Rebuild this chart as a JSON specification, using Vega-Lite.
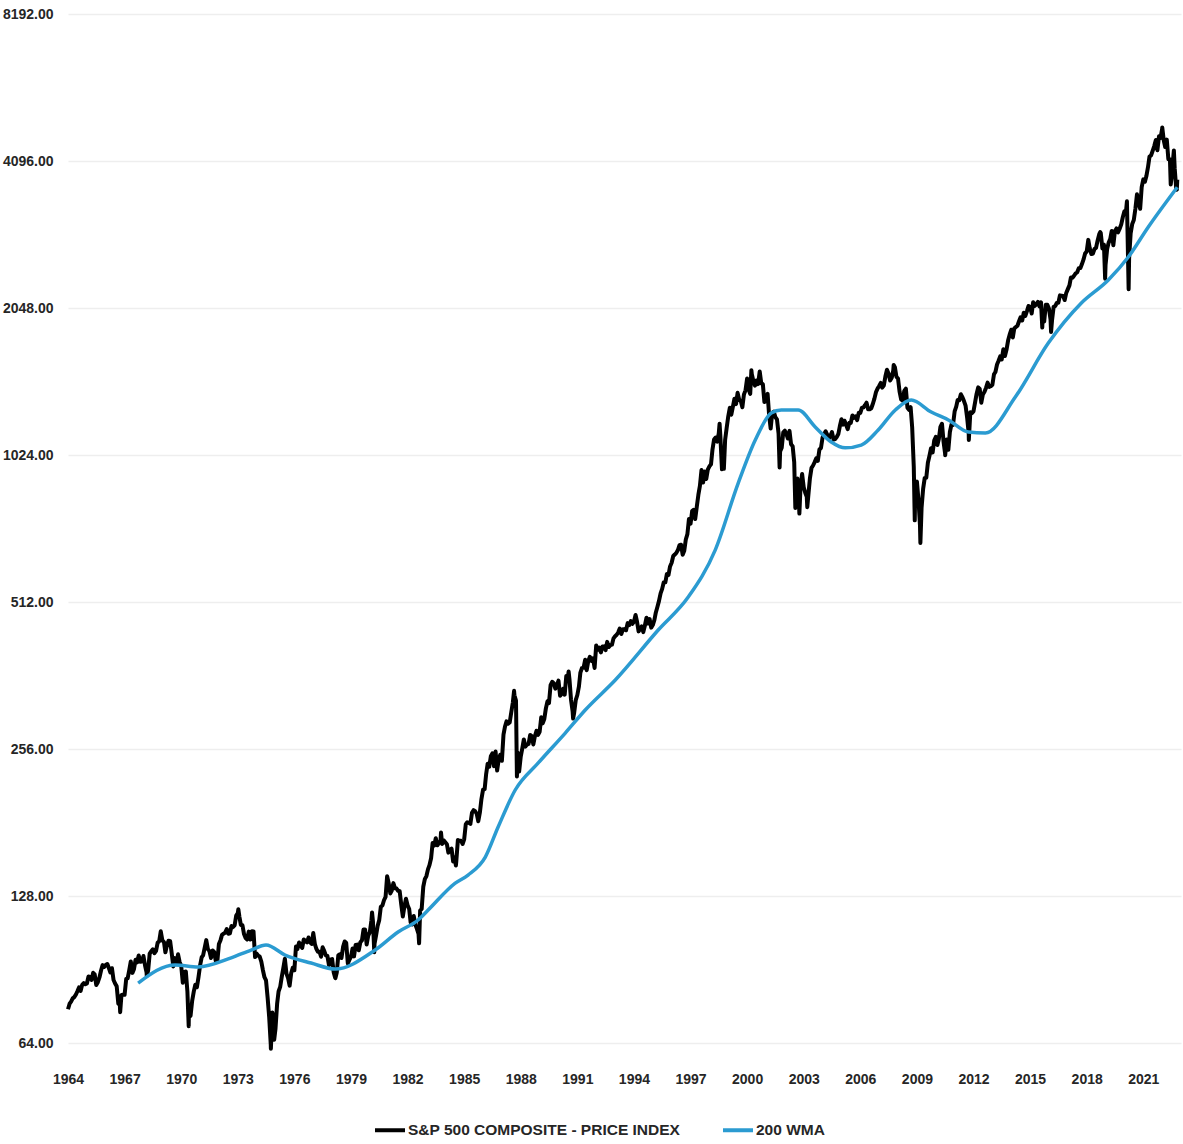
{
  "$schema": "https://vega.github.io/schema/vega-lite/v6.json",
  "width": 1113,
  "height": 1029,
  "autosize": {"type": "none"},
  "padding": {"left": 68, "top": 14, "right": 2, "bottom": 101},
  "background": "#ffffff",
  "config": {
    "view": {"stroke": null},
    "font": "Liberation Sans, Arial, sans-serif"
  },
  "datasets": {
    "spx": [
      {"d":"1964-01","v":75.02},
      {"d":"1964-02","v":77.04},{"d":"1964-03","v":77.80},{"d":"1964-04","v":78.98},{"d":"1964-05","v":79.46},{"d":"1964-06","v":80.37},{"d":"1964-07","v":81.69},{"d":"1964-08","v":83.18},{"d":"1964-09","v":81.83},{"d":"1964-10","v":84.18},{"d":"1964-11","v":84.86},{"d":"1964-12","v":84.42},{"d":"1965-01","v":84.75},
      {"d":"1965-02","v":87.56},{"d":"1965-03","v":87.43},{"d":"1965-04","v":86.16},{"d":"1965-05","v":89.11},{"d":"1965-06","v":88.42},{"d":"1965-07","v":84.12},{"d":"1965-08","v":85.25},{"d":"1965-09","v":87.17},{"d":"1965-10","v":89.96},{"d":"1965-11","v":92.42},{"d":"1965-12","v":91.61},{"d":"1966-01","v":92.43},
      {"d":"1966-02","v":92.88},{"d":"1966-03","v":91.22},{"d":"1966-04","v":89.23},{"d":"1966-05","v":91.06},{"d":"1966-06","v":86.13},{"d":"1966-07","v":84.74},{"d":"1966-08","v":83.60},{"d":"1966-09","v":77.10},{"d":"1966-10","v":76.56},{"d":"1966-11","v":80.20},{"d":"1966-12","v":80.45},{"d":"1967-01","v":80.33},
      {"d":"1967-02","v":86.61},{"d":"1967-03","v":86.78},{"d":"1967-04","v":90.20},{"d":"1967-05","v":94.01},{"d":"1967-06","v":89.08},{"d":"1967-07","v":90.64},{"d":"1967-08","v":94.75},{"d":"1967-09","v":93.64},{"d":"1967-10","v":96.71},{"d":"1967-11","v":93.90},{"d":"1967-12","v":94.00},{"d":"1968-01","v":96.47},
      {"d":"1968-02","v":92.24},{"d":"1968-03","v":89.36},{"d":"1968-04","v":90.20},{"d":"1968-05","v":97.59},{"d":"1968-06","v":98.68},{"d":"1968-07","v":99.58},{"d":"1968-08","v":97.74},{"d":"1968-09","v":98.86},{"d":"1968-10","v":102.67},{"d":"1968-11","v":103.41},{"d":"1968-12","v":108.37},{"d":"1969-01","v":103.86},
      {"d":"1969-02","v":103.01},{"d":"1969-03","v":98.13},{"d":"1969-04","v":101.51},{"d":"1969-05","v":103.69},{"d":"1969-06","v":103.46},{"d":"1969-07","v":97.71},{"d":"1969-08","v":91.83},{"d":"1969-09","v":95.51},{"d":"1969-10","v":93.12},{"d":"1969-11","v":97.24},{"d":"1969-12","v":93.81},{"d":"1970-01","v":92.06},
      {"d":"1970-02","v":85.02},{"d":"1970-03","v":89.50},{"d":"1970-04","v":89.63},{"d":"1970-05","v":81.52},{"d":"1970-06","v":76.55},{"d":"1970-07","v":72.72},{"d":"1970-08","v":78.05},{"d":"1970-09","v":81.52},{"d":"1970-10","v":84.21},{"d":"1970-11","v":83.25},{"d":"1970-12","v":87.20},{"d":"1971-01","v":92.15},
      {"d":"1971-02","v":95.88},{"d":"1971-03","v":96.75},{"d":"1971-04","v":100.31},{"d":"1971-05","v":103.95},{"d":"1971-06","v":99.63},{"d":"1971-07","v":98.70},{"d":"1971-08","v":95.58},{"d":"1971-09","v":99.03},{"d":"1971-10","v":98.34},{"d":"1971-11","v":94.23},{"d":"1971-12","v":93.99},{"d":"1972-01","v":102.09},
      {"d":"1972-02","v":103.94},{"d":"1972-03","v":106.57},{"d":"1972-04","v":107.20},{"d":"1972-05","v":107.67},{"d":"1972-06","v":109.53},{"d":"1972-07","v":107.14},{"d":"1972-08","v":107.39},{"d":"1972-09","v":111.09},{"d":"1972-10","v":110.55},{"d":"1972-11","v":111.58},{"d":"1972-12","v":116.67},{"d":"1973-01","v":118.05},
      {"d":"1973-02","v":116.03},{"d":"1973-03","v":111.68},{"d":"1973-04","v":111.52},{"d":"1973-05","v":106.97},{"d":"1973-06","v":104.95},{"d":"1973-07","v":104.26},{"d":"1973-08","v":108.22},{"d":"1973-09","v":104.25},{"d":"1973-10","v":108.43},{"d":"1973-11","v":108.29},{"d":"1973-12","v":95.96},{"d":"1974-01","v":97.55},
      {"d":"1974-02","v":96.57},{"d":"1974-03","v":96.22},{"d":"1974-04","v":93.98},{"d":"1974-05","v":90.31},{"d":"1974-06","v":87.28},{"d":"1974-07","v":86.00},{"d":"1974-08","v":79.31},{"d":"1974-09","v":72.15},{"d":"1974-10","v":63.54},{"d":"1974-11","v":73.90},{"d":"1974-12","v":69.97},{"d":"1975-01","v":68.56},
      {"d":"1975-02","v":76.98},{"d":"1975-03","v":81.59},{"d":"1975-04","v":83.36},{"d":"1975-05","v":87.30},{"d":"1975-06","v":91.15},{"d":"1975-07","v":95.19},{"d":"1975-08","v":88.75},{"d":"1975-09","v":86.88},{"d":"1975-10","v":83.87},{"d":"1975-11","v":89.04},{"d":"1975-12","v":91.24},{"d":"1976-01","v":90.19},
      {"d":"1976-02","v":100.86},{"d":"1976-03","v":99.71},{"d":"1976-04","v":102.77},{"d":"1976-05","v":101.64},{"d":"1976-06","v":100.18},{"d":"1976-07","v":104.28},{"d":"1976-08","v":103.44},{"d":"1976-09","v":102.91},{"d":"1976-10","v":105.24},{"d":"1976-11","v":102.90},{"d":"1976-12","v":102.10},{"d":"1977-01","v":107.46},
      {"d":"1977-02","v":102.03},{"d":"1977-03","v":99.82},{"d":"1977-04","v":98.42},{"d":"1977-05","v":98.44},{"d":"1977-06","v":96.12},{"d":"1977-07","v":100.48},{"d":"1977-08","v":98.85},{"d":"1977-09","v":96.77},{"d":"1977-10","v":96.53},{"d":"1977-11","v":92.34},{"d":"1977-12","v":94.83},{"d":"1978-01","v":95.10},
      {"d":"1978-02","v":89.25},{"d":"1978-03","v":87.04},{"d":"1978-04","v":89.21},{"d":"1978-05","v":96.83},{"d":"1978-06","v":97.24},{"d":"1978-07","v":95.53},{"d":"1978-08","v":100.68},{"d":"1978-09","v":103.29},{"d":"1978-10","v":102.54},{"d":"1978-11","v":93.15},{"d":"1978-12","v":94.70},{"d":"1979-01","v":96.11},
      {"d":"1979-02","v":99.93},{"d":"1979-03","v":96.28},{"d":"1979-04","v":101.59},{"d":"1979-05","v":101.76},{"d":"1979-06","v":99.08},{"d":"1979-07","v":102.91},{"d":"1979-08","v":103.81},{"d":"1979-09","v":109.32},{"d":"1979-10","v":109.32},{"d":"1979-11","v":101.82},{"d":"1979-12","v":106.16},{"d":"1980-01","v":107.94},
      {"d":"1980-02","v":114.16},{"d":"1980-03","v":113.66},{"d":"1980-04","v":102.09},{"d":"1980-05","v":106.29},{"d":"1980-06","v":111.24},{"d":"1980-07","v":114.24},{"d":"1980-08","v":121.67},{"d":"1980-09","v":122.38},{"d":"1980-10","v":125.46},{"d":"1980-11","v":127.47},{"d":"1980-12","v":140.52},{"d":"1981-01","v":135.76},
      {"d":"1981-02","v":129.55},{"d":"1981-03","v":131.27},{"d":"1981-04","v":136.00},{"d":"1981-05","v":132.81},{"d":"1981-06","v":132.59},{"d":"1981-07","v":131.21},{"d":"1981-08","v":130.92},{"d":"1981-09","v":122.79},{"d":"1981-10","v":116.18},{"d":"1981-11","v":121.89},{"d":"1981-12","v":126.35},{"d":"1982-01","v":122.55},
      {"d":"1982-02","v":120.40},{"d":"1982-03","v":113.11},{"d":"1982-04","v":111.96},{"d":"1982-05","v":116.44},{"d":"1982-06","v":111.88},{"d":"1982-07","v":109.61},{"d":"1982-08","v":107.09},{"d":"1982-09","v":119.51},{"d":"1982-10","v":120.42},{"d":"1982-11","v":133.71},{"d":"1982-12","v":138.54},{"d":"1983-01","v":140.64},
      {"d":"1983-02","v":145.30},{"d":"1983-03","v":148.06},{"d":"1983-04","v":152.96},{"d":"1983-05","v":164.42},{"d":"1983-06","v":162.39},{"d":"1983-07","v":168.11},{"d":"1983-08","v":162.56},{"d":"1983-09","v":164.40},{"d":"1983-10","v":166.07},{"d":"1983-11","v":163.55},{"d":"1983-12","v":166.40},{"d":"1984-01","v":164.93},
      {"d":"1984-02","v":163.41},{"d":"1984-03","v":157.06},{"d":"1984-04","v":159.18},{"d":"1984-05","v":160.05},{"d":"1984-06","v":150.55},{"d":"1984-07","v":153.18},{"d":"1984-08","v":150.66},{"d":"1984-09","v":166.68},{"d":"1984-10","v":166.10},{"d":"1984-11","v":166.09},{"d":"1984-12","v":163.58},{"d":"1985-01","v":167.24},
      {"d":"1985-02","v":179.63},{"d":"1985-03","v":181.18},{"d":"1985-04","v":180.66},{"d":"1985-05","v":179.83},{"d":"1985-06","v":189.55},{"d":"1985-07","v":191.85},{"d":"1985-08","v":190.92},{"d":"1985-09","v":188.63},{"d":"1985-10","v":182.08},{"d":"1985-11","v":189.82},{"d":"1985-12","v":202.17},{"d":"1986-01","v":211.28},
      {"d":"1986-02","v":211.78},{"d":"1986-03","v":226.92},{"d":"1986-04","v":238.90},{"d":"1986-05","v":235.52},{"d":"1986-06","v":247.35},{"d":"1986-07","v":250.84},{"d":"1986-08","v":236.12},{"d":"1986-09","v":252.93},{"d":"1986-10","v":231.32},{"d":"1986-11","v":243.98},{"d":"1986-12","v":249.22},{"d":"1987-01","v":242.17},
      {"d":"1987-02","v":274.08},{"d":"1987-03","v":284.20},{"d":"1987-04","v":291.70},{"d":"1987-05","v":288.36},{"d":"1987-06","v":290.10},{"d":"1987-07","v":304.00},{"d":"1987-08","v":318.66},{"d":"1987-09","v":329.80},{"d":"1987-10","v":321.83},{"d":"1987-11","v":251.79},{"d":"1987-12","v":230.30},{"d":"1988-01","v":247.08},
      {"d":"1988-02","v":257.07},{"d":"1988-03","v":267.82},{"d":"1988-04","v":258.89},{"d":"1988-05","v":261.33},{"d":"1988-06","v":262.16},{"d":"1988-07","v":273.50},{"d":"1988-08","v":272.02},{"d":"1988-09","v":261.52},{"d":"1988-10","v":271.91},{"d":"1988-11","v":278.97},{"d":"1988-12","v":273.70},{"d":"1989-01","v":277.72},
      {"d":"1989-02","v":297.47},{"d":"1989-03","v":288.86},{"d":"1989-04","v":294.87},{"d":"1989-05","v":309.64},{"d":"1989-06","v":320.52},{"d":"1989-07","v":317.98},{"d":"1989-08","v":346.08},{"d":"1989-09","v":351.45},{"d":"1989-10","v":349.15},{"d":"1989-11","v":340.36},{"d":"1989-12","v":345.99},{"d":"1990-01","v":353.40},
      {"d":"1990-02","v":329.08},{"d":"1990-03","v":331.89},{"d":"1990-04","v":339.94},{"d":"1990-05","v":330.80},{"d":"1990-06","v":361.23},{"d":"1990-07","v":358.02},{"d":"1990-08","v":356.15},{"d":"1990-09","v":322.56},{"d":"1990-10","v":306.05},{"d":"1990-11","v":304.00},{"d":"1990-12","v":322.22},{"d":"1991-01","v":330.22},
      {"d":"1991-02","v":343.93},{"d":"1991-03","v":367.07},{"d":"1991-04","v":375.22},{"d":"1991-05","v":375.35},{"d":"1991-06","v":389.83},{"d":"1991-07","v":371.16},{"d":"1991-08","v":387.81},{"d":"1991-09","v":395.43},{"d":"1991-10","v":387.86},{"d":"1991-11","v":392.46},{"d":"1991-12","v":375.22},{"d":"1992-01","v":417.09},
      {"d":"1992-02","v":408.79},{"d":"1992-03","v":412.70},{"d":"1992-04","v":403.69},{"d":"1992-05","v":414.95},{"d":"1992-06","v":415.35},{"d":"1992-07","v":408.14},{"d":"1992-08","v":424.21},{"d":"1992-09","v":414.03},{"d":"1992-10","v":417.80},{"d":"1992-11","v":418.68},{"d":"1992-12","v":431.35},{"d":"1993-01","v":435.71},
      {"d":"1993-02","v":438.78},{"d":"1993-03","v":443.38},{"d":"1993-04","v":451.67},{"d":"1993-05","v":440.19},{"d":"1993-06","v":450.19},{"d":"1993-07","v":450.53},{"d":"1993-08","v":448.13},{"d":"1993-09","v":463.56},{"d":"1993-10","v":458.93},{"d":"1993-11","v":467.83},{"d":"1993-12","v":461.79},{"d":"1994-01","v":466.45},
      {"d":"1994-02","v":481.61},{"d":"1994-03","v":467.14},{"d":"1994-04","v":445.77},{"d":"1994-05","v":450.91},{"d":"1994-06","v":456.50},{"d":"1994-07","v":444.27},{"d":"1994-08","v":458.26},{"d":"1994-09","v":475.49},{"d":"1994-10","v":462.69},{"d":"1994-11","v":472.35},{"d":"1994-12","v":453.69},{"d":"1995-01","v":459.27},
      {"d":"1995-02","v":470.42},{"d":"1995-03","v":487.39},{"d":"1995-04","v":500.71},{"d":"1995-05","v":514.71},{"d":"1995-06","v":533.40},{"d":"1995-07","v":544.75},{"d":"1995-08","v":562.06},{"d":"1995-09","v":561.88},{"d":"1995-10","v":584.41},{"d":"1995-11","v":581.50},{"d":"1995-12","v":605.37},{"d":"1996-01","v":615.93},
      {"d":"1996-02","v":636.02},{"d":"1996-03","v":640.43},{"d":"1996-04","v":645.50},{"d":"1996-05","v":654.17},{"d":"1996-06","v":669.12},{"d":"1996-07","v":670.63},{"d":"1996-08","v":639.95},{"d":"1996-09","v":651.99},{"d":"1996-10","v":687.33},{"d":"1996-11","v":705.27},{"d":"1996-12","v":757.02},{"d":"1997-01","v":740.74},
      {"d":"1997-02","v":786.16},{"d":"1997-03","v":790.82},{"d":"1997-04","v":757.12},{"d":"1997-05","v":801.34},{"d":"1997-06","v":848.28},{"d":"1997-07","v":885.14},{"d":"1997-08","v":954.31},{"d":"1997-09","v":899.47},{"d":"1997-10","v":947.28},{"d":"1997-11","v":914.62},{"d":"1997-12","v":955.40},{"d":"1998-01","v":970.43},
      {"d":"1998-02","v":980.28},{"d":"1998-03","v":1049.34},{"d":"1998-04","v":1101.75},{"d":"1998-05","v":1111.75},{"d":"1998-06","v":1090.82},{"d":"1998-07","v":1133.84},{"d":"1998-08","v":1120.67},{"d":"1998-09","v":957.28},{"d":"1998-10","v":1017.01},{"d":"1998-11","v":1098.67},{"d":"1998-12","v":1163.63},{"d":"1999-01","v":1229.23},
      {"d":"1999-02","v":1279.64},{"d":"1999-03","v":1238.33},{"d":"1999-04","v":1286.37},{"d":"1999-05","v":1335.18},{"d":"1999-06","v":1301.84},{"d":"1999-07","v":1372.71},{"d":"1999-08","v":1328.72},{"d":"1999-09","v":1320.41},{"d":"1999-10","v":1282.71},{"d":"1999-11","v":1362.93},{"d":"1999-12","v":1388.91},{"d":"2000-01","v":1469.25},
      {"d":"2000-02","v":1394.46},{"d":"2000-03","v":1366.42},{"d":"2000-04","v":1498.58},{"d":"2000-05","v":1452.43},{"d":"2000-06","v":1420.60},{"d":"2000-07","v":1454.60},{"d":"2000-08","v":1430.83},{"d":"2000-09","v":1517.68},{"d":"2000-10","v":1436.51},{"d":"2000-11","v":1429.40},{"d":"2000-12","v":1314.95},{"d":"2001-01","v":1320.28},
      {"d":"2001-02","v":1366.01},{"d":"2001-03","v":1239.94},{"d":"2001-04","v":1160.33},{"d":"2001-05","v":1249.46},{"d":"2001-06","v":1255.82},{"d":"2001-07","v":1224.42},{"d":"2001-08","v":1211.23},{"d":"2001-09","v":1133.58},{"d":"2001-10","v":1040.94},{"d":"2001-11","v":1059.78},{"d":"2001-12","v":1139.45},{"d":"2002-01","v":1148.08},
      {"d":"2002-02","v":1130.20},{"d":"2002-03","v":1106.73},{"d":"2002-04","v":1147.39},{"d":"2002-05","v":1076.92},{"d":"2002-06","v":1067.14},{"d":"2002-07","v":989.82},{"d":"2002-08","v":911.62},{"d":"2002-09","v":916.07},{"d":"2002-10","v":815.28},{"d":"2002-11","v":885.76},{"d":"2002-12","v":936.31},{"d":"2003-01","v":879.82},
      {"d":"2003-02","v":855.70},{"d":"2003-03","v":841.15},{"d":"2003-04","v":848.18},{"d":"2003-05","v":916.92},{"d":"2003-06","v":963.59},{"d":"2003-07","v":974.50},{"d":"2003-08","v":990.31},{"d":"2003-09","v":1008.01},{"d":"2003-10","v":995.97},{"d":"2003-11","v":1050.71},{"d":"2003-12","v":1058.20},{"d":"2004-01","v":1111.92},
      {"d":"2004-02","v":1131.13},{"d":"2004-03","v":1144.94},{"d":"2004-04","v":1126.21},{"d":"2004-05","v":1107.30},{"d":"2004-06","v":1120.68},{"d":"2004-07","v":1140.84},{"d":"2004-08","v":1101.72},{"d":"2004-09","v":1104.24},{"d":"2004-10","v":1114.58},{"d":"2004-11","v":1130.20},{"d":"2004-12","v":1173.82},{"d":"2005-01","v":1211.92},
      {"d":"2005-02","v":1181.27},{"d":"2005-03","v":1203.60},{"d":"2005-04","v":1180.59},{"d":"2005-05","v":1156.85},{"d":"2005-06","v":1191.50},{"d":"2005-07","v":1191.33},{"d":"2005-08","v":1234.18},{"d":"2005-09","v":1220.33},{"d":"2005-10","v":1228.81},{"d":"2005-11","v":1207.01},{"d":"2005-12","v":1249.48},{"d":"2006-01","v":1248.29},
      {"d":"2006-02","v":1280.08},{"d":"2006-03","v":1280.66},{"d":"2006-04","v":1294.87},{"d":"2006-05","v":1310.61},{"d":"2006-06","v":1270.09},{"d":"2006-07","v":1270.20},{"d":"2006-08","v":1276.66},{"d":"2006-09","v":1303.82},{"d":"2006-10","v":1335.85},{"d":"2006-11","v":1377.94},{"d":"2006-12","v":1400.63},{"d":"2007-01","v":1418.30},
      {"d":"2007-02","v":1438.24},{"d":"2007-03","v":1406.82},{"d":"2007-04","v":1420.86},{"d":"2007-05","v":1482.37},{"d":"2007-06","v":1530.62},{"d":"2007-07","v":1503.35},{"d":"2007-08","v":1455.27},{"d":"2007-09","v":1473.99},{"d":"2007-10","v":1526.75},{"d":"2007-11","v":1549.38},{"d":"2007-12","v":1481.14},{"d":"2008-01","v":1468.36},
      {"d":"2008-02","v":1378.55},{"d":"2008-03","v":1330.63},{"d":"2008-04","v":1322.70},{"d":"2008-05","v":1385.59},{"d":"2008-06","v":1400.38},{"d":"2008-07","v":1280.00},{"d":"2008-08","v":1267.38},{"d":"2008-09","v":1282.83},{"d":"2008-10","v":1166.36},{"d":"2008-11","v":968.75},{"d":"2008-12","v":896.24},{"d":"2009-01","v":903.25},
      {"d":"2009-02","v":825.88},{"d":"2009-03","v":735.09},{"d":"2009-04","v":797.87},{"d":"2009-05","v":872.81},{"d":"2009-06","v":919.14},{"d":"2009-07","v":919.32},{"d":"2009-08","v":987.48},{"d":"2009-09","v":1020.62},{"d":"2009-10","v":1057.08},{"d":"2009-11","v":1036.19},{"d":"2009-12","v":1095.63},{"d":"2010-01","v":1115.10},
      {"d":"2010-02","v":1073.87},{"d":"2010-03","v":1104.49},{"d":"2010-04","v":1169.43},{"d":"2010-05","v":1186.69},{"d":"2010-06","v":1089.41},{"d":"2010-07","v":1030.71},{"d":"2010-08","v":1101.60},{"d":"2010-09","v":1049.33},{"d":"2010-10","v":1141.20},{"d":"2010-11","v":1183.26},{"d":"2010-12","v":1180.55},{"d":"2011-01","v":1257.64},
      {"d":"2011-02","v":1286.12},{"d":"2011-03","v":1327.22},{"d":"2011-04","v":1325.83},{"d":"2011-05","v":1363.61},{"d":"2011-06","v":1345.20},{"d":"2011-07","v":1320.64},{"d":"2011-08","v":1292.28},{"d":"2011-09","v":1218.89},{"d":"2011-10","v":1131.42},{"d":"2011-11","v":1253.30},{"d":"2011-12","v":1246.96},{"d":"2012-01","v":1257.60},
      {"d":"2012-02","v":1312.41},{"d":"2012-03","v":1365.68},{"d":"2012-04","v":1408.47},{"d":"2012-05","v":1397.91},{"d":"2012-06","v":1310.33},{"d":"2012-07","v":1362.16},{"d":"2012-08","v":1379.32},{"d":"2012-09","v":1406.58},{"d":"2012-10","v":1440.67},{"d":"2012-11","v":1412.16},{"d":"2012-12","v":1416.18},{"d":"2013-01","v":1426.19},
      {"d":"2013-02","v":1498.11},{"d":"2013-03","v":1514.68},{"d":"2013-04","v":1569.19},{"d":"2013-05","v":1597.57},{"d":"2013-06","v":1630.74},{"d":"2013-07","v":1606.28},{"d":"2013-08","v":1685.73},{"d":"2013-09","v":1632.97},{"d":"2013-10","v":1681.55},{"d":"2013-11","v":1756.54},{"d":"2013-12","v":1805.81},{"d":"2014-01","v":1848.36},
      {"d":"2014-02","v":1782.59},{"d":"2014-03","v":1859.45},{"d":"2014-04","v":1872.34},{"d":"2014-05","v":1883.95},{"d":"2014-06","v":1923.57},{"d":"2014-07","v":1960.23},{"d":"2014-08","v":1930.67},{"d":"2014-09","v":2003.37},{"d":"2014-10","v":1972.29},{"d":"2014-11","v":2018.05},{"d":"2014-12","v":2067.56},{"d":"2015-01","v":2058.90},
      {"d":"2015-02","v":1994.99},{"d":"2015-03","v":2104.50},{"d":"2015-04","v":2067.89},{"d":"2015-05","v":2085.51},{"d":"2015-06","v":2107.39},{"d":"2015-07","v":2063.11},{"d":"2015-08","v":2103.84},{"d":"2015-09","v":1972.18},{"d":"2015-10","v":1920.03},{"d":"2015-11","v":2079.36},{"d":"2015-12","v":2080.41},{"d":"2016-01","v":2043.94},
      {"d":"2016-02","v":1940.24},{"d":"2016-03","v":1932.23},{"d":"2016-04","v":2059.74},{"d":"2016-05","v":2065.30},{"d":"2016-06","v":2096.95},{"d":"2016-07","v":2098.86},{"d":"2016-08","v":2173.60},{"d":"2016-09","v":2170.95},{"d":"2016-10","v":2168.27},{"d":"2016-11","v":2126.15},{"d":"2016-12","v":2198.81},{"d":"2017-01","v":2238.83},
      {"d":"2017-02","v":2278.87},{"d":"2017-03","v":2363.64},{"d":"2017-04","v":2362.72},{"d":"2017-05","v":2384.20},{"d":"2017-06","v":2411.80},{"d":"2017-07","v":2423.41},{"d":"2017-08","v":2470.30},{"d":"2017-09","v":2471.65},{"d":"2017-10","v":2519.36},{"d":"2017-11","v":2575.26},{"d":"2017-12","v":2647.58},{"d":"2018-01","v":2673.61},
      {"d":"2018-02","v":2823.81},{"d":"2018-03","v":2713.83},{"d":"2018-04","v":2640.87},{"d":"2018-05","v":2648.05},{"d":"2018-06","v":2705.27},{"d":"2018-07","v":2718.37},{"d":"2018-08","v":2816.29},{"d":"2018-09","v":2901.52},{"d":"2018-10","v":2913.98},{"d":"2018-11","v":2711.74},{"d":"2018-12","v":2760.17},{"d":"2019-01","v":2506.85},
      {"d":"2019-02","v":2704.10},{"d":"2019-03","v":2784.49},{"d":"2019-04","v":2834.40},{"d":"2019-05","v":2945.83},{"d":"2019-06","v":2752.06},{"d":"2019-07","v":2941.76},{"d":"2019-08","v":2980.38},{"d":"2019-09","v":2926.46},{"d":"2019-10","v":2976.74},{"d":"2019-11","v":3037.56},{"d":"2019-12","v":3140.98},{"d":"2020-01","v":3230.78},
      {"d":"2020-02","v":3225.52},{"d":"2020-03","v":2954.22},{"d":"2020-04","v":2584.59},{"d":"2020-05","v":2912.43},{"d":"2020-06","v":3044.31},{"d":"2020-07","v":3100.29},{"d":"2020-08","v":3271.12},{"d":"2020-09","v":3500.31},{"d":"2020-10","v":3363.00},{"d":"2020-11","v":3269.96},{"d":"2020-12","v":3621.63},{"d":"2021-01","v":3756.07},
      {"d":"2021-02","v":3714.24},{"d":"2021-03","v":3811.15},{"d":"2021-04","v":3972.89},{"d":"2021-05","v":4181.17},{"d":"2021-06","v":4204.11},{"d":"2021-07","v":4297.50},{"d":"2021-08","v":4395.26},{"d":"2021-09","v":4522.68},{"d":"2021-10","v":4307.54},{"d":"2021-11","v":4605.38},{"d":"2021-12","v":4567.00},{"d":"2022-01","v":4766.18},
      {"d":"2022-02","v":4515.55},{"d":"2022-03","v":4373.94},{"d":"2022-04","v":4530.41},{"d":"2022-05","v":4131.93},{"d":"2022-06","v":4132.15},{"d":"2022-07","v":3785.38},{"d":"2022-08","v":4130.29},{"d":"2022-09","v":3955.00},{"d":"2022-10","v":3585.62},
      {"d":"1966-10-07","v":74.0},{"d":"1968-03-05","v":87.72},{"d":"1970-05-26","v":69.29},{"d":"1973-01-11","v":120.24},{"d":"1974-10-03","v":62.28},{"d":"1974-12-06","v":65.01},{"d":"1978-03-06","v":86.90},{"d":"1980-02-13","v":118.44},{"d":"1980-03-27","v":98.22},{"d":"1982-08-12","v":102.42},{"d":"1983-10-10","v":172.65},{"d":"1984-07-24","v":147.82},{"d":"1987-08-25","v":336.77},{"d":"1987-10-19","v":224.84},{"d":"1990-07-16","v":368.95},{"d":"1990-10-11","v":295.46},{"d":"1998-07-17","v":1186.75},{"d":"1998-10-08","v":959.44},{"d":"2000-03-24","v":1527.46},{"d":"2001-09-21","v":965.80},{"d":"2002-07-23","v":797.70},{"d":"2002-10-09","v":776.76},{"d":"2003-03-11","v":800.73},{"d":"2007-10-09","v":1565.15},{"d":"2008-11-20","v":752.44},{"d":"2009-03-09","v":676.53},{"d":"2010-07-02","v":1022.58},{"d":"2011-10-03","v":1099.23},{"d":"2015-08-25","v":1867.61},{"d":"2016-02-11","v":1829.08},{"d":"2018-09-20","v":2930.75},{"d":"2018-12-24","v":2351.10},{"d":"2020-02-19","v":3386.15},{"d":"2020-03-23","v":2237.40},{"d":"2022-01-03","v":4796.56},{"d":"2022-06-16","v":3666.77},{"d":"2022-08-16","v":4305.20},{"d":"2022-10-12","v":3577.03},{"d":"2022-10-21","v":3752.75}
    ],
    "wma": [
      {"d":"1967-09-20","v":84.9},{"d":"1969-09-05","v":92.5},{"d":"1970-11-25","v":91.6},{"d":"1972-08-25","v":95.6},{"d":"1973-09-16","v":99.2},{"d":"1974-07-01","v":101.6},{"d":"1975-07-05","v":96.9},{"d":"1976-11-20","v":93.3},{"d":"1978-03-01","v":90.7},{"d":"1980-04-12","v":99.2},{"d":"1981-07-01","v":108},{"d":"1982-07-23","v":114.3},{"d":"1983-02-03","v":119.8},{"d":"1984-07-12","v":136},{"d":"1985-03-17","v":141.3},{"d":"1986-02-14","v":153.8},{"d":"1986-10-20","v":177.2},{"d":"1987-09-16","v":211},{"d":"1988-12-05","v":239.7},{"d":"1990-05-12","v":276},{"d":"1991-06-03","v":307.7},{"d":"1993-01-05","v":354.4},{"d":"1995-04-16","v":448.6},{"d":"1996-11-17","v":524},{"d":"1998-04-23","v":654},{"d":"1999-07-13","v":897},{"d":"2000-06-07","v":1099},{"d":"2001-04-12","v":1248},{"d":"2001-10-23","v":1266},{"d":"2002-09-16","v":1266},{"d":"2003-08-11","v":1169},{"d":"2004-06-17","v":1089},{"d":"2005-03-14","v":1059},{"d":"2006-01-19","v":1073},{"d":"2006-12-13","v":1152},{"d":"2007-11-10","v":1266},{"d":"2008-09-13","v":1327},{"d":"2009-10-05","v":1254},{"d":"2010-09-02","v":1208},{"d":"2011-09-24","v":1141},{"d":"2012-08-19","v":1136},{"d":"2014-03-21","v":1346},{"d":"2015-12-20","v":1736},{"d":"2017-09-20","v":2097},{"d":"2019-02-24","v":2337},{"d":"2020-03-17","v":2605},{"d":"2021-04-08","v":3001},{"d":"2022-10-21","v":3620}
    ]
  },
  "encoding": {
    "x": {
      "field": "d", "type": "temporal", "title": null,
      "scale": {"domain": [{"year": 1964, "month": 1, "date": 1}, {"year": 2023, "month": 1, "date": 1}]},
      "axis": {
        "values": [{"year":1964},{"year":1967},{"year":1970},{"year":1973},{"year":1976},{"year":1979},{"year":1982},{"year":1985},{"year":1988},{"year":1991},{"year":1994},{"year":1997},{"year":2000},{"year":2003},{"year":2006},{"year":2009},{"year":2012},{"year":2015},{"year":2018},{"year":2021}],
        "format": "%Y", "grid": false, "domain": false, "ticks": false,
        "labelFlush": false, "labelPadding": 29, "labelFontSize": 14, "labelFontWeight": "bold", "labelColor": "#262626", "labelOverlap": false
      }
    },
    "y": {
      "field": "v", "type": "quantitative", "title": null,
      "scale": {"type": "log", "base": 2, "domain": [64, 8192], "nice": false, "zero": false},
      "axis": {
        "values": [64, 128, 256, 512, 1024, 2048, 4096, 8192],
        "format": ".2f", "grid": true, "gridColor": "#eeeeee", "gridWidth": 1.5,
        "domain": false, "ticks": false, "labelPadding": 15, "labelFontSize": 14, "labelFontWeight": "bold", "labelColor": "#262626"
      }
    }
  },
  "layer": [
    {
      "data": {"name": "spx"},
      "mark": {"type": "line", "strokeWidth": 4, "strokeJoin": "round"},
      "encoding": {
        "color": {
          "datum": "S&P 500 COMPOSITE - PRICE INDEX",
          "scale": {"domain": ["S&P 500 COMPOSITE - PRICE INDEX", "200 WMA"], "range": ["#000000", "#2B9BD1"]},
          "legend": {
            "title": null, "orient": "none", "legendX": 305, "legendY": 1099, "direction": "horizontal",
            "symbolType": "stroke", "symbolSize": 900, "symbolStrokeWidth": 4,
            "labelFontSize": 15.5, "labelFontWeight": "bold", "labelColor": "#262626", "labelOffset": 1, "labelLimit": 500, "columnPadding": 34
          }
        }
      }
    },
    {
      "data": {"name": "wma"},
      "mark": {"type": "line", "strokeWidth": 3.5, "interpolate": "monotone"},
      "encoding": {"color": {"datum": "200 WMA"}}
    }
  ]
}
